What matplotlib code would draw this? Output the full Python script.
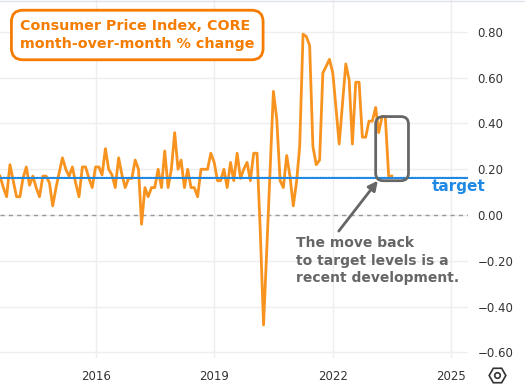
import matplotlib.pyplot as plt
import matplotlib.dates as mdates
from matplotlib.patches import FancyBboxPatch
from matplotlib.lines import Line2D
from matplotlib.ticker import FuncFormatter
from matplotlib.transforms import Bbox, TransformedBbox
import pandas as pd

# core CPI, month-over-month % change, monthly from Aug 2013
start_month = "2013-08-01"
core_mom = [
    0.17, 0.12, 0.08, 0.22, 0.15,                                            # 2013
    0.08, 0.08, 0.16, 0.21, 0.13, 0.17, 0.12, 0.08, 0.17, 0.17, 0.14, 0.04,  # 2014
    0.12, 0.19, 0.25, 0.20, 0.17, 0.21, 0.14, 0.08, 0.21, 0.21, 0.16, 0.12,  # 2015
    0.21, 0.21, 0.175, 0.29, 0.20, 0.175, 0.12, 0.25, 0.175, 0.12, 0.16, 0.16,  # 2016
    0.24, 0.20, -0.04, 0.12, 0.08, 0.12, 0.12, 0.20, 0.12, 0.28, 0.12, 0.20,  # 2017
    0.36, 0.20, 0.24, 0.12, 0.20, 0.12, 0.12, 0.08, 0.20, 0.20, 0.20, 0.27,  # 2018
    0.23, 0.15, 0.15, 0.20, 0.12, 0.23, 0.15, 0.27, 0.16, 0.20, 0.23, 0.15,  # 2019
    0.27, 0.27, -0.06, -0.48, -0.15, 0.20, 0.54, 0.42, 0.15, 0.12, 0.26, 0.17,  # 2020
    0.04, 0.15, 0.30, 0.79, 0.78, 0.74, 0.30, 0.22, 0.24, 0.62, 0.65, 0.68,  # 2021
    0.62, 0.46, 0.31, 0.49, 0.66, 0.59, 0.31, 0.58, 0.58, 0.34, 0.34, 0.41,  # 2022
    0.41, 0.47, 0.36, 0.43, 0.43, 0.17, 0.17,                                # 2023
]
target = 0.16
y_ticks = [0.80, 0.60, 0.40, 0.20, 0.00, -0.20, -0.40, -0.60]
x_tick_years = [2016, 2019, 2022, 2025]

title_text = "Consumer Price Index, CORE\nmonth-over-month % change"
note_text = "The move back\nto target levels is a\nrecent development."

orange = "#F7931E"
title_orange = "#F57C00"
blue = "#1E88E5"
grey = "#666666"

dates = pd.date_range(start_month, periods=len(core_mom), freq="MS")

fig = plt.figure(figsize=(5.25, 3.87), dpi=100)
ax = fig.add_axes([0, 0.075, 0.891, 0.925])

ax.set_xlim(pd.Timestamp("2013-08-01"), pd.Timestamp("2025-06-01"))
ax.set_ylim(-0.624, 0.939)

ax.set_yticks(y_ticks)
ax.set_xticks([pd.Timestamp(f"{y}-01-01") for y in x_tick_years])
ax.xaxis.set_major_formatter(mdates.DateFormatter("%Y"))
ax.yaxis.set_major_formatter(FuncFormatter(lambda v, p: f"{v:.2f}".replace("-", "\u2212")))
ax.yaxis.tick_right()
ax.tick_params(axis="y", length=0, pad=7, labelsize=8.5, labelcolor="#333333")
ax.tick_params(axis="x", length=0, pad=9, labelsize=8.5, labelcolor="#333333")
for s in ax.spines.values():
    s.set_visible(False)
ax.grid(color="#eeeeee", lw=1)
ax.set_axisbelow(True)

# price scale labels get cut at the bottom of the pane
clip = TransformedBbox(Bbox([[0, 1 - 357 / 387], [1, 1]]), fig.transFigure)
for t in ax.yaxis.get_major_ticks():
    t.label2.set_clip_box(clip)
    t.label2.set_clip_on(True)

ax.axhline(0, color="#999999", lw=1, ls=(0, (3, 3)), zorder=1)

ax.plot(dates, core_mom, color=orange, lw=2, zorder=3, solid_joinstyle="round")

# target line
ax.axhline(target, color=blue, lw=1.4, zorder=4)
ax.axhline(target + 0.004, color=blue, lw=1, ls=(0, (1, 1)), zorder=4)
ax.text(0.923, target - 0.035, "target", transform=ax.get_yaxis_transform(),
        color=blue, fontsize=11, fontweight="bold", va="center", ha="left", clip_on=False)

# title box
fig.text(20 / 525, 1 - 35 / 387, title_text, color=title_orange, fontsize=10.3,
         fontweight="bold", va="center", ha="left", linespacing=1.4,
         bbox=dict(boxstyle="round,pad=0.6,rounding_size=0.8", fc="white",
                   ec=title_orange, lw=2))

# box around the latest months
fig.canvas.draw()
bbox = ax.get_window_extent()
x0, x1 = ax.get_xlim()
y0, y1 = ax.get_ylim()
aspect = ((y1 - y0) / bbox.height) / ((x1 - x0) / bbox.width)
box_left = mdates.date2num(dates[-1] - pd.DateOffset(months=5))
box_right = mdates.date2num(dates[-1] + pd.DateOffset(months=5))
box_bottom = min(core_mom[-2:]) - 0.02
box_top = max(core_mom[-3:])
ax.add_patch(FancyBboxPatch((box_left, box_bottom), box_right - box_left, box_top - box_bottom,
                            boxstyle="round,pad=0,rounding_size=70", mutation_aspect=aspect,
                            fc="none", ec=grey, lw=2, zorder=5))

ax.annotate("", xy=(box_left + 20, box_bottom), xytext=(pd.Timestamp("2022-02-25"), -0.07),
            arrowprops=dict(arrowstyle="-|>", color=grey, lw=2, mutation_scale=14,
                            shrinkA=0, shrinkB=0), zorder=5)
ax.text(pd.Timestamp("2021-01-25"), -0.09, note_text, color=grey, fontsize=10,
        fontweight="bold", va="top", ha="left", linespacing=1.35)

# settings icon in the corner and the pane's top border
fig.add_artist(Line2D([497 / 525], [1 - 375 / 387], marker="H", ms=12, mfc="none",
                      mec="#333333", mew=1.2, transform=fig.transFigure))
fig.add_artist(Line2D([497 / 525], [1 - 375 / 387], marker="o", ms=4, mfc="none",
                      mec="#333333", mew=1.2, transform=fig.transFigure))
fig.add_artist(Line2D([0, 1], [0.998, 0.998], color="#e0e3eb", lw=1,
                      transform=fig.transFigure))

fig.savefig("out.png", dpi=100)
